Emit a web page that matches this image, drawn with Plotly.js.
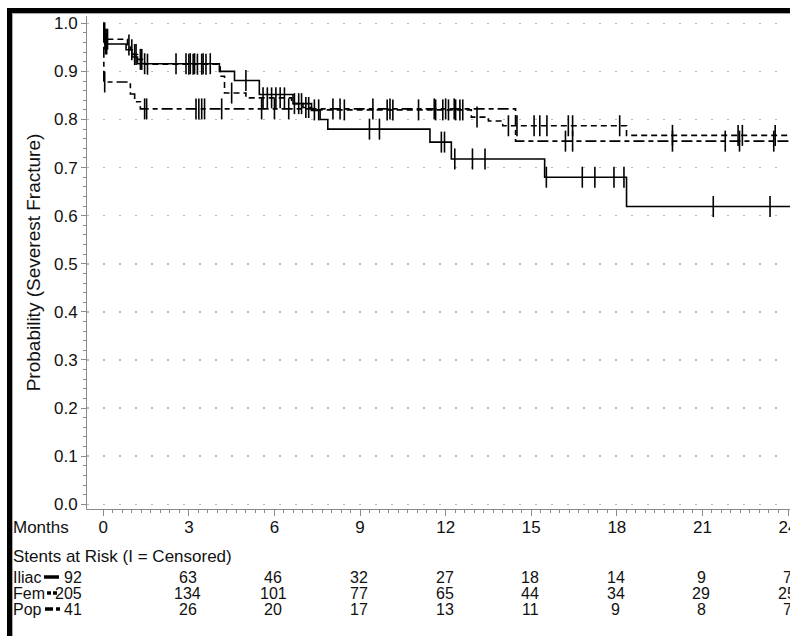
<!DOCTYPE html>
<html>
<head>
<meta charset="utf-8">
<script src="https://cdn.plot.ly/plotly-3.0.1.min.js"></script>
<style>
  html, body { margin: 0; padding: 0; background: #fff; overflow: hidden; width: 790px; height: 636px; }
  #chart { position: absolute; left: 0; top: 0; width: 830px; height: 636px; }
  #frame { position: absolute; left: 7px; top: 8px; width: 900px; height: 700px;
           border-top: 5px solid #000; border-left: 5px solid #000; pointer-events: none; }
  #frameInner { position: absolute; left: 12px; top: 13px; width: 900px; height: 700px;
           border-top: 1px solid #a8a8a8; border-left: 1px solid #a8a8a8; pointer-events: none; }
</style>
</head>
<body>
<div id="chart"></div>
<div id="frame"></div>
<div id="frameInner"></div>
<script>
// Kaplan-Meier estimates: event times (months) and survival after each step
const iliacTimes = [0, 0.05, 0.8, 1.0, 1.2, 4.07, 4.6, 5.47, 6.65, 7.3, 7.6, 7.87, 11.45, 12.2, 15.47, 18.34];
const iliacSurv  = [1.0, 0.957, 0.945, 0.930, 0.916, 0.900, 0.881, 0.852, 0.833, 0.819, 0.800, 0.780, 0.753, 0.718, 0.680, 0.619];
const iliacCensored = [0.08, 0.12, 1.45, 2.55, 2.9, 3.05, 3.2, 3.5, 3.75, 5.0, 9.33, 9.68, 11.85, 11.96, 12.32, 12.94, 13.38, 15.53, 16.79, 17.23, 17.9, 18.25, 21.38, 23.37];
const iliacLastFollowUp = 24.3;

const femTimes = [0, 0.02, 0.85, 0.95, 1.05, 1.2, 1.45, 4.1, 4.25, 5.0, 6.6, 7.0, 7.3, 12.9, 13.5, 14.0, 18.34];
const femSurv  = [1.0, 0.967, 0.955, 0.945, 0.935, 0.925, 0.915, 0.890, 0.855, 0.845, 0.833, 0.825, 0.820, 0.805, 0.797, 0.787, 0.767];
const femCensored = [0.06, 0.1, 0.15, 0.9, 1.0, 1.1, 1.15, 1.3, 1.35, 1.55, 3.0, 3.15, 3.3, 3.45, 3.6, 4.5, 5.6, 5.75, 5.9, 6.05, 6.2, 6.35, 6.7, 6.85, 6.95, 7.1, 7.2, 7.4, 7.55, 8.45, 9.95, 10.15, 11.05, 11.65, 11.9, 12.1, 12.35, 12.5, 12.6, 13.1, 14.2, 14.5, 15.1, 15.3, 15.55, 16.3, 16.45, 18.1, 19.95, 22.25, 22.4, 23.55];
const femLastFollowUp = 24.3;

const popTimes = [0, 0.02, 0.95, 1.1, 1.3, 14.45];
const popSurv  = [1.0, 0.878, 0.853, 0.837, 0.822, 0.755];
const popCensored = [0.05, 1.45, 1.52, 3.25, 3.35, 3.45, 3.55, 4.15, 5.55, 6.0, 6.5, 8.05, 8.3, 9.45, 10.05, 11.6, 12.0, 12.3, 16.2, 16.45, 19.95, 21.8, 22.3, 23.5];
const popLastFollowUp = 24.3;

// Numbers at risk table
const riskMonths = [0, 3, 6, 9, 12, 15, 18, 21, 24];
const iliacAtRisk = [92, 63, 46, 32, 27, 18, 14, 9, 7];
const femAtRisk   = [205, 134, 101, 77, 65, 44, 34, 29, 25];
const popAtRisk   = [41, 26, 20, 17, 13, 11, 9, 8, 7];
const groupNames = ['Iliac', 'Fem', 'Pop'];

// plot-area geometry in page pixels
const L = 87, T = 16, W = 711, H = 493;
const figW = 830, figH = 636;
const px = x => (x - L) / W;
const py = y => (T + H - y) / H;

const FONT = 'Liberation Sans, Arial, Helvetica, sans-serif';
const INK = '#111';
const AXIS = '#8a8a8a';
const ROW_SIZE = 15;

// value of a step curve at time t
function stepAt(times, surv, t) {
  let s = surv[0];
  for (let i = 0; i < times.length; i++) if (times[i] <= t) s = surv[i];
  return s;
}

const styles = [
  { times: iliacTimes, surv: iliacSurv, cens: iliacCensored, end: iliacLastFollowUp, dash: 'solid' },
  { times: femTimes, surv: femSurv, cens: femCensored, end: femLastFollowUp, dash: '6px,4px' },
  { times: popTimes, surv: popSurv, cens: popCensored, end: popLastFollowUp, dash: '11px,4px,5px,4px' }
];

const traces = [];
styles.forEach((s, k) => {
  traces.push({
    x: s.times.concat([s.end]),
    y: s.surv.concat([s.surv[s.surv.length - 1]]),
    mode: 'lines', line: { shape: 'hv', color: '#000', width: 1.6, dash: s.dash },
    name: groupNames[k], showlegend: false, hoverinfo: 'skip'
  });
  traces.push({
    x: s.cens,
    y: s.cens.map(t => stepAt(s.times, s.surv, t)),
    mode: 'markers',
    marker: { symbol: 'line-ns-open', size: 15, color: '#000', line: { color: '#000', width: 1.6 } },
    showlegend: false, hoverinfo: 'skip'
  });
});

const annotations = [];
const shapes = [];
const txt = (text, x, y, xanchor, size) => ({
  text: text, x: x, y: y, xref: 'paper', yref: 'paper', xanchor: xanchor, yanchor: 'middle',
  showarrow: false, borderpad: 0, font: { family: FONT, size: size || 17, color: INK }
});

annotations.push(txt('Months', px(12), py(527), 'left'));
annotations.push(txt('Stents at Risk (I = Censored)', px(12), py(556), 'left'));

const rowY = [577, 593, 609];
const atRisk = [iliacAtRisk, femAtRisk, popAtRisk];
groupNames.forEach((g, r) => {
  annotations.push(txt(g, px(12), py(rowY[r]), 'left', ROW_SIZE + 1));
  atRisk[r].forEach((n, i) => {
    const first = i === 0;
    annotations.push({
      text: String(n), x: riskMonths[i], y: py(rowY[r]), xref: 'x', yref: 'paper',
      xanchor: first ? 'right' : 'center', yanchor: 'middle', xshift: first ? -20 : -1,
      showarrow: false, borderpad: 0, font: { family: FONT, size: ROW_SIZE + 1, color: INK }
    });
  });
});

// line samples next to the group names
const sample = (x0, x1, y) => ({ type: 'line', xref: 'paper', yref: 'paper',
  x0: px(x0), x1: px(x1), y0: py(y), y1: py(y), line: { color: '#000', width: 3.5 } });
shapes.push(sample(44, 59, rowY[0]));
shapes.push(sample(47, 51, rowY[1]));
shapes.push(sample(53, 57, rowY[1]));
shapes.push(sample(45, 53, rowY[2]));
shapes.push(sample(56, 60, rowY[2]));

const minorX = [];
for (let m = 0; m <= 72; m++) if (m % 9 !== 0) minorX.push(m / 3);

const layout = {
  width: figW, height: figH,
  margin: { l: L, t: T, r: figW - L - W, b: figH - T - H, pad: 0 },
  paper_bgcolor: '#fff', plot_bgcolor: '#fff',
  font: { family: FONT, size: 17, color: INK },
  xaxis: {
    range: [-0.57, 24.35], tickmode: 'array', tickvals: riskMonths,
    ticks: 'outside', ticklen: 6, tickwidth: 1, tickcolor: AXIS,
    showline: true, linecolor: AXIS, linewidth: 1, mirror: false,
    showgrid: false, zeroline: false, automargin: false,
    tickfont: { family: FONT, size: 17, color: INK }, ticklabelstandoff: -3,
    minor: { tickmode: 'array', tickvals: minorX, ticks: 'outside', ticklen: 3, tickcolor: AXIS, showgrid: false }
  },
  yaxis: {
    range: [-0.0098, 1.0152], tick0: 0, dtick: 0.1, tickformat: '.1f',
    ticks: 'outside', ticklen: 5, tickwidth: 1, tickcolor: AXIS,
    showline: true, linecolor: AXIS, linewidth: 1,
    showgrid: true, gridcolor: '#b8b8b8', gridwidth: 1.5, griddash: '2px,14px',
    zeroline: false, automargin: false,
    tickfont: { family: FONT, size: 17, color: INK }, ticklabelstandoff: 0,
    minor: { dtick: 0.02, tick0: 0, ticks: 'outside', ticklen: 3, tickcolor: AXIS, showgrid: false },
    title: { text: 'Probability (Severest Fracture)', font: { family: FONT, size: 19, color: INK }, standoff: 8 }
  },
  annotations: annotations,
  shapes: shapes,
  showlegend: false
};

Plotly.newPlot('chart', traces, layout, { staticPlot: true, displayModeBar: false });
</script>
</body>
</html>
